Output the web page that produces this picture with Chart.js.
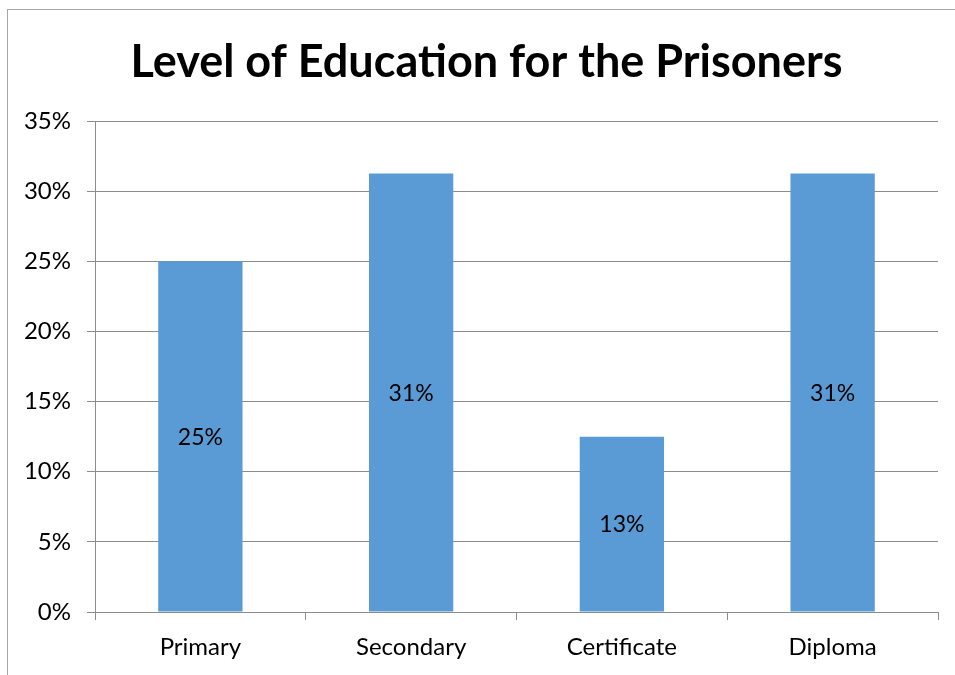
<!DOCTYPE html>
<html>
<head>
<meta charset="utf-8">
<script src="https://cdn.jsdelivr.net/npm/chart.js@4/dist/chart.umd.min.js"></script>
<style>
  html, body { margin: 0; padding: 0; background: #fff; }
  #wrap { width: 955px; height: 675px; }
</style>
</head>
<body>
<div id="wrap"><canvas id="eduChart" width="955" height="675"></canvas></div>
<script>
const categories = ['Primary', 'Secondary', 'Certificate', 'Diploma'];
const shares = [25, 31.25, 12.5, 31.25]; // percent of prisoners
const yTicks = [0, 5, 10, 15, 20, 25, 30, 35];

const FONT = 'Lato, "Open Sans", sans-serif';
const GRID = '#8c8c8c';

// outer frame drawn before everything else
const framePlugin = {
    id: 'frame',
    beforeDraw(chart) {
        const c = chart.ctx;
        c.save();
        c.fillStyle = '#fff';
        c.fillRect(0, 0, chart.width, chart.height);
        c.strokeStyle = '#a6a6a6';
        c.lineWidth = 1;
        c.strokeRect(7.5, 9.5, 2000, 2000);
        c.restore();
    }
};

// value labels centred inside each bar
const barLabels = {
    id: 'barLabels',
    afterDatasetsDraw(chart) {
        const c = chart.ctx;
        const meta = chart.getDatasetMeta(0);
        c.save();
        c.font = '23px ' + FONT;
        c.fillStyle = '#000';
        c.textAlign = 'center';
        c.textBaseline = 'middle';
        meta.data.forEach((bar, i) => {
            const mid = (bar.y + bar.base) / 2;
            c.fillText(Math.round(shares[i]) + '%', bar.x, mid + 1);
        });
        c.restore();
    }
};

new Chart(document.getElementById('eduChart'), {
    type: 'bar',
    data: {
        labels: categories,
        datasets: [{
            data: shares,
            backgroundColor: '#5b9bd5',
            barPercentage: 0.4,
            categoryPercentage: 1
        }]
    },
    options: {
        responsive: false,
        animation: false,
        layout: { padding: { left: 18, right: 0, top: 0, bottom: 0 } },
        plugins: {
            legend: { display: false },
            tooltip: { enabled: false },
            title: {
                display: true,
                text: 'Level of Education for the Prisoners',
                color: '#000',
                font: { family: FONT, size: 45, weight: 'bold', lineHeight: 1.2 },
                padding: { top: 35, bottom: 32 }
            }
        },
        scales: {
            x: {
                offset: true,
                grid: {
                    offset: true,
                    drawOnChartArea: false,
                    drawTicks: true,
                    tickLength: 8,
                    color: GRID
                },
                border: { color: GRID },
                ticks: {
                    color: '#000',
                    font: { family: FONT, size: 24 },
                    padding: 13
                },
                afterFit(scale) { scale.height = 63; }
            },
            y: {
                min: 0,
                max: 35,
                afterBuildTicks(scale) {
                    scale.ticks = yTicks.map(v => ({ value: v }));
                },
                grid: { color: GRID, tickLength: 8 },
                border: { color: GRID },
                ticks: {
                    color: '#000',
                    font: { family: FONT, size: 24 },
                    padding: 16,
                    callback: v => v + '%'
                },
                afterFit(scale) { scale.width = 77; }
            },
            // empty right-hand margin so the plot ends before the edge
            spacer: {
                position: 'right',
                display: true,
                grid: { display: false },
                border: { display: false },
                ticks: { display: false },
                afterFit(scale) { scale.width = 17; }
            }
        }
    },
    plugins: [framePlugin, barLabels]
});
</script>
</body>
</html>
